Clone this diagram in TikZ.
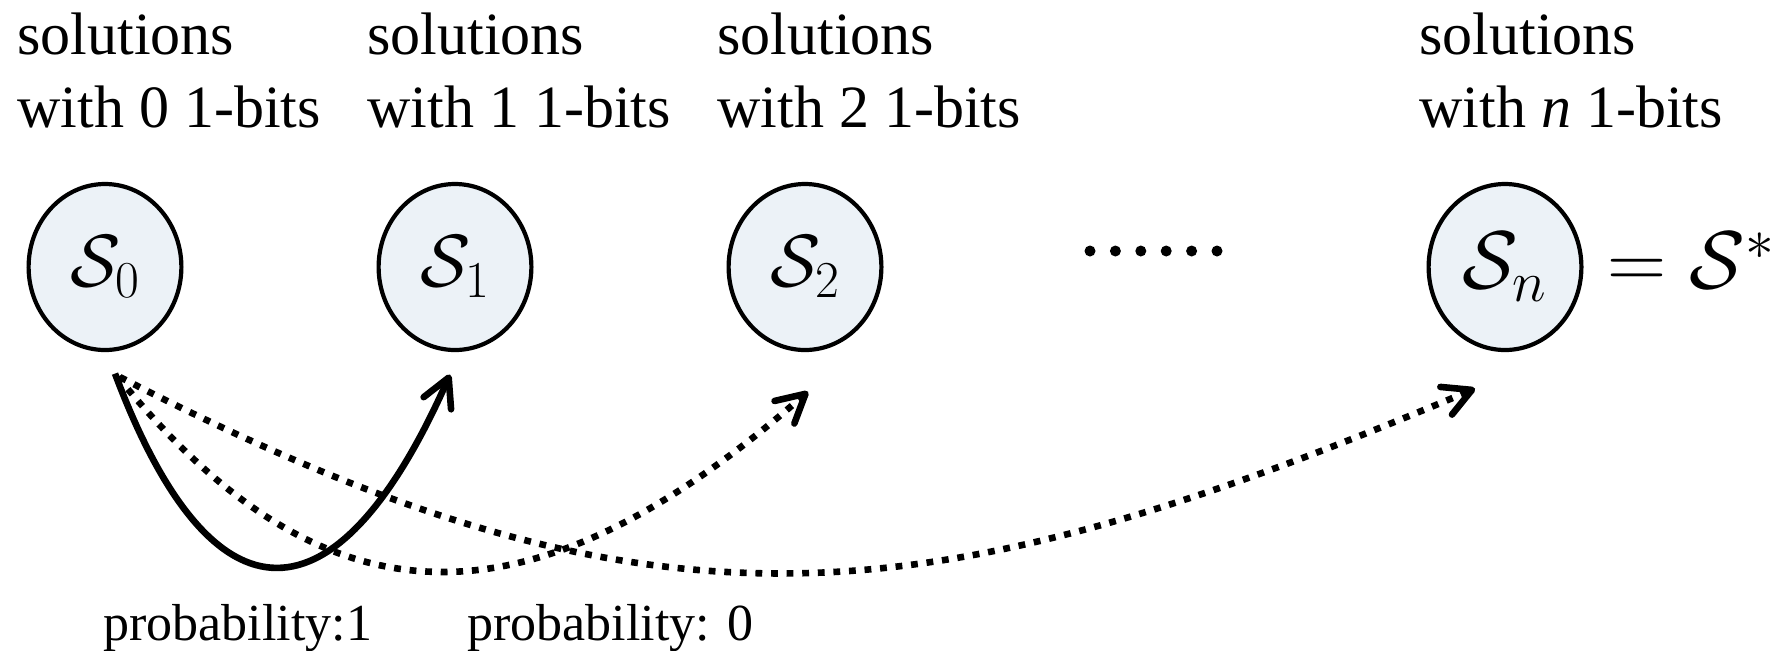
\RequirePackage{fix-cm}
\documentclass[tikz,border=0pt]{standalone}
\usepackage[no-math]{fontspec}
\setmainfont{Liberation Serif}
\usetikzlibrary{arrows.meta,shapes.geometric,calc}
\definecolor{circfill}{RGB}{236,242,247}
\begin{document}
\begin{tikzpicture}[x=0.5pt,y=-0.5pt,
  state/.style={ellipse, draw=black, line width=2.1pt, fill=circfill,
    minimum width=76.4pt, minimum height=83pt, inner sep=0pt,
    font=\fontsize{37}{40}\selectfont},
  bigmath/.style={font=\fontsize{41}{44}\selectfont},
  toplabel/.style={anchor=base west, align=left, inner sep=0pt,
    font=\fontsize{30}{36.5}\selectfont},
  problabel/.style={anchor=base west, inner sep=0pt,
    font=\fontsize{26}{30}\selectfont},
  barbtip/.style={-{Straight Barb[length=14pt,width=15pt,round]}},
  solidarrow/.style={barbtip, line width=3.3pt},
  dotarrow/.style={barbtip, line width=3.3pt, dash pattern=on 3.4pt off 4.4pt}]
\useasboundingbox (0,0) rectangle (1787,650);

% states
\node[state] (S0) at (105,267) {$\mathcal{S}_0$};
\node[state] (S1) at (455,267) {$\mathcal{S}_1$};
\node[state] (S2) at (805,267) {$\mathcal{S}_2$};
\node[state, bigmath] (Sn) at (1505,267) {$\mathcal{S}_n$};
\node[anchor=base west, inner sep=0pt, bigmath] (eq)
  at ([xshift=51pt]Sn.base) {$=\mathcal{S}^*$};

% ellipsis dots
\foreach \i in {0,...,5} \fill (1090+25.4*\i,251) circle (2.75pt);

% top labels (anchor base = baseline of the last line)
\node[toplabel] (L0) at (17,127) {solutions\\with 0 1-bits};
\node[toplabel] (L1) at (367,127) {solutions\\with 1 1-bits};
\node[toplabel] (L2) at (717,127) {solutions\\with 2 1-bits};
\node[toplabel] (Ln) at (1419,127) {solutions\\with \textit{n} 1-bits};

% connector end points
\coordinate (a0) at ([shift={(10,21.5)}]S0.south);
\coordinate (a1) at ([shift={(-5,22.5)}]S1.south);
\coordinate (b0) at ([shift={(13,25)}]S0.south);
\coordinate (b2) at ([shift={(3,39.5)}]S2.south);
\coordinate (c0) at ([shift={(15,25)}]S0.south);
\coordinate (cn) at ([shift={(-30,36.5)}]Sn.south);

% connectors
\draw[solidarrow] (a0) .. controls (213,635) and (338,628) .. (a1);
\draw[dotarrow] (b0) .. controls (320,626) and (523,641) .. (b2);
\draw[dotarrow] (c0) .. controls (654,652) and (923,621) .. (cn);

% probability labels
\node[problabel] (p1) at (103,640) {probability:1};
\node[problabel] (p0) at (467,640) {probability: 0};
\end{tikzpicture}
\end{document}
